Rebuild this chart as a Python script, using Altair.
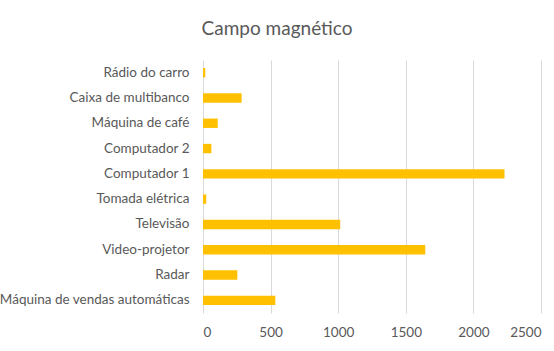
import altair as alt
import pandas as pd

categories = ["Rádio do carro", "Caixa de multibanco", "Máquina de café", "Computador 2",
              "Computador 1", "Tomada elétrica", "Televisão", "Video-projetor", "Radar",
              "Máquina de vendas automáticas"]
values = [17, 286, 109, 62, 2230, 24, 1015, 1644, 254, 535]
x_ticks = [0, 500, 1000, 1500, 2000, 2500]

df = pd.DataFrame({"cat": categories, "val": values})

chart = alt.Chart(df).mark_bar(color="#FFC000").encode(
    x=alt.X("val:Q", scale=alt.Scale(domain=[0, 2500], nice=False),
            axis=alt.Axis(values=x_ticks, format="d", title=None, domain=False,
                          ticks=False, grid=True, gridColor="#d9d9d9", labelPadding=12,
                          labelFont="Lato", labelFontSize=13.5, labelColor="#595959")),
    y=alt.Y("cat:N", sort=categories,
            scale=alt.Scale(paddingInner=0.63, paddingOuter=0.315),
            axis=alt.Axis(title=None, domain=False, ticks=False, labelPadding=14,
                          labelLimit=400,
                          labelFont="Lato", labelFontSize=13.5, labelColor="#595959")),
).properties(
    width=338, height=253,
    title=alt.TitleParams("Campo magnético", font="Lato", fontSize=19, fontWeight="normal",
                          color="#595959", anchor="middle", dx=-95, offset=21),
    autosize=alt.AutoSizeParams(type="none"),
    padding={"left": 203, "top": 60, "right": 13, "bottom": 38},
).configure_view(stroke=None)

chart.save("out.html", embed_options={"renderer": "svg", "actions": False})
